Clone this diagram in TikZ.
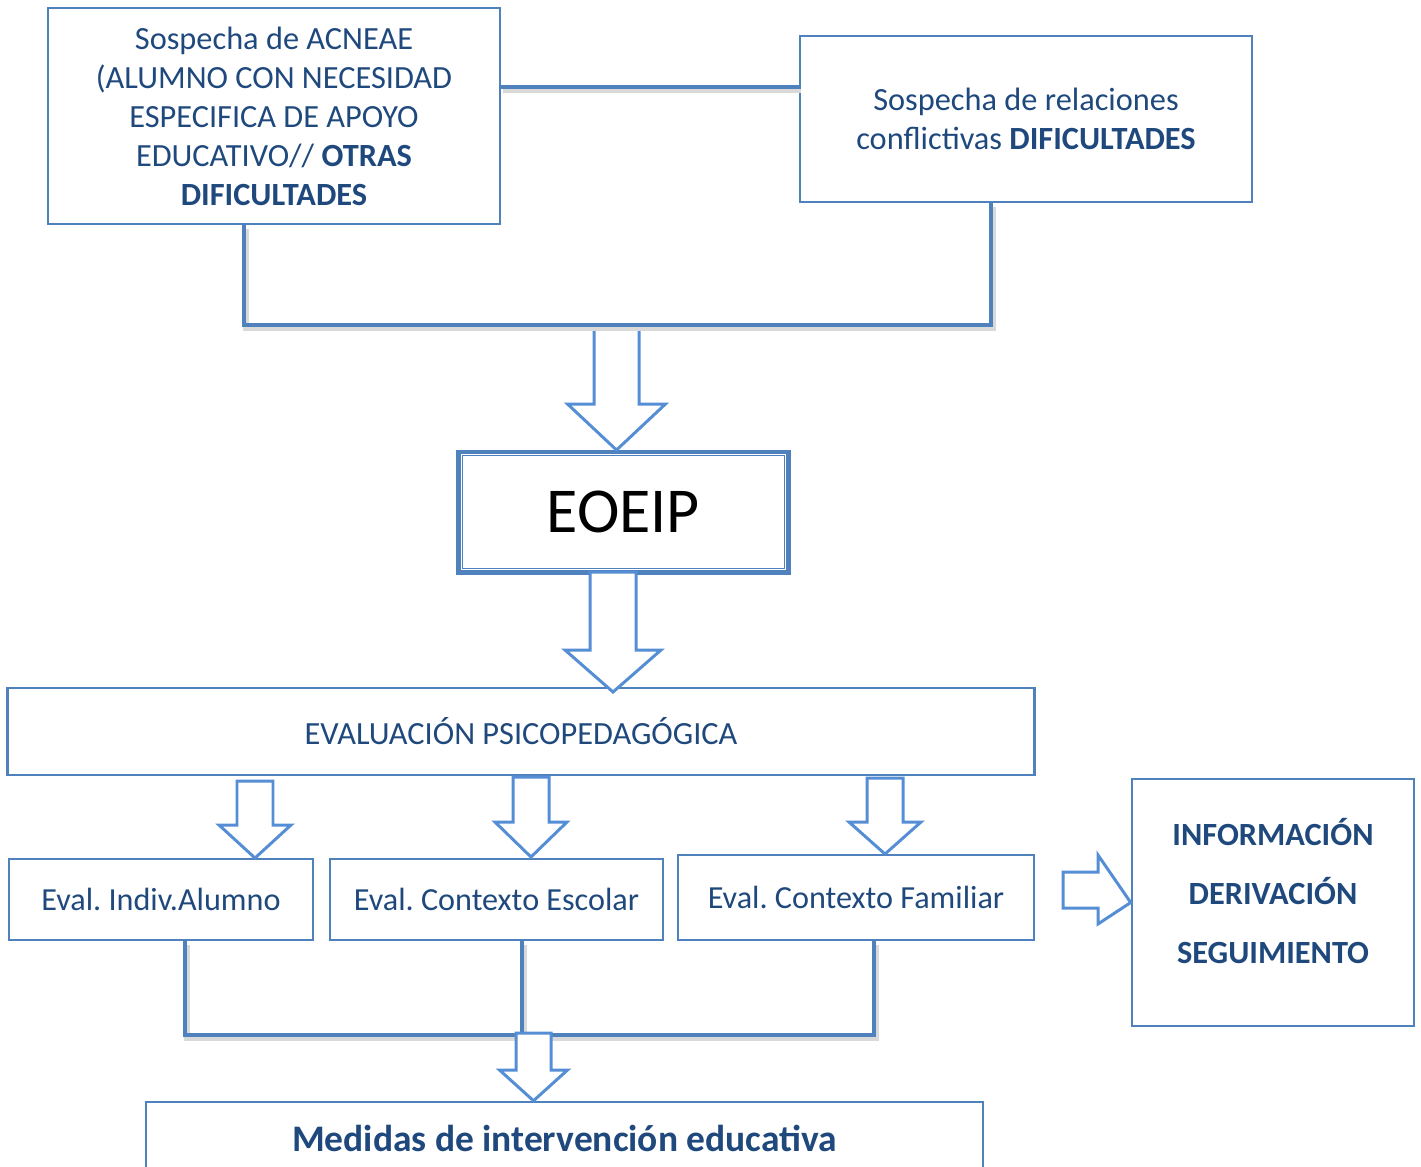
\documentclass[tikz,border=0pt]{standalone}
\usepackage{fontspec}
\setmainfont{Carlito}
\frenchspacing
\usetikzlibrary{positioning,calc}
\definecolor{azulcaja}{HTML}{4F81BD}
\definecolor{azulflecha}{HTML}{558ED5}
\definecolor{azultexto}{HTML}{1F497D}

\begin{document}
\begin{tikzpicture}[x=0.01cm,y=-0.01cm,
    caja/.style={draw=azulcaja,line width=0.7pt,rectangle,inner sep=0pt,align=center,
      text=azultexto,font=\fontsize{9.2}{11.1}\selectfont},
    linea/.style={draw=azulcaja,line width=1.3pt,line cap=rect,
      preaction={draw=black!15,line width=1.6pt,transform canvas={shift={(0.02cm,-0.035cm)}}}},
    flecha/.style={draw=azulflecha,line width=0.85pt,fill=white,line join=miter}]
        \useasboundingbox (0,0) rectangle (1421,1166);
        \clip (0,0) rectangle (1421,1166);
        % Define the nodes
        \node[caja,minimum width=4.52cm,minimum height=2.16cm] (acneae) at (274,116)
            {Sospecha de ACNEAE\\(ALUMNO CON NECESIDAD\\ESPECIFICA DE APOYO\\EDUCATIVO// \textbf{OTRAS}\\\textbf{DIFICULTADES}};
        \node[caja,minimum width=4.52cm,minimum height=1.66cm] (relaciones) at (1026,119)
            {Sospecha de relaciones\\conflictivas \textbf{DIFICULTADES}};
        \node[caja,line width=1.4pt,minimum width=3.29cm,minimum height=1.20cm,text=black,
            font=\fontsize{18.2}{22}\selectfont] (eoeip) at (623.5,512) {EOEIP};
        \draw[azulcaja,line width=0.4pt] ([shift={(6,6)}]eoeip.north west) rectangle ([shift={(-6,-6)}]eoeip.south east);
        \node[caja,minimum width=10.26cm,minimum height=0.87cm] (evaluacion) at (521,731.5) {EVALUACIÓN PSICOPEDAGÓGICA};
        \node[caja,minimum width=3.04cm,minimum height=0.81cm,font=\fontsize{9.15}{11}\selectfont] (indiv) at (161,899.5) {Eval. Indiv.Alumno};
        \node[caja,minimum width=3.33cm,minimum height=0.81cm,font=\fontsize{9.15}{11}\selectfont] (escolar) at (496.5,899.5) {Eval. Contexto Escolar};
        \node[caja,minimum width=3.56cm,minimum height=0.85cm,font=\fontsize{9.15}{11}\selectfont] (familiar) at (856,897.5) {Eval. Contexto Familiar};
        \node[caja,minimum width=2.82cm,minimum height=2.47cm,font=\bfseries\fontsize{9.2}{16.8}\selectfont] (info) at (1273,902.5)
            {\raisebox{0.095cm}[\height][\depth]{\begin{tabular}{@{}c@{}}INFORMACIÓN\\DERIVACIÓN\\SEGUIMIENTO\end{tabular}}};
        \node[caja,minimum width=8.37cm,minimum height=0.72cm,font=\bfseries\fontsize{10.66}{13}\selectfont] (medidas) at (564.5,1138)
            {Medidas de intervención educativa};
        % Connect the nodes
        \coordinate (alto)  at (0,87);
        \coordinate (codo1) at (244,325);
        \coordinate (codo2) at (991,325);
        \coordinate (codo3) at (185,1035);
        \coordinate (codo4) at (874,1035);
        % block arrows: centre / top / head / tip / half shaft / half head
        \foreach \x/\ya/\yb/\yc/\s/\h in {616.5/325/404/450/22.5/49, 613/572/650/692/23/48,
                255/781/825/858/18/36, 531/777/822/857/18/36, 885/778/822/854/18/36}
            \draw[flecha] ({\x-\s},\ya) -- ({\x-\s},\yb) -- ({\x-\h},\yb) -- (\x,\yc)
                -- ({\x+\h},\yb) -- ({\x+\s},\yb) -- ({\x+\s},\ya) -- cycle;
        \draw[linea] (acneae.east |- alto) -- (relaciones.west |- alto);
        \draw[linea] (acneae.south -| codo1) -- (codo1) -- (codo2) -- (relaciones.south -| codo2);
        \draw[linea] (indiv.south -| codo3) -- (codo3) -- (codo4) -- (familiar.south -| codo4);
        \draw[linea] (escolar.south -| 522,0) -- (522,1035);
        \draw[flecha] (516,1033) -- (516,1070) -- (499.5,1070) -- (medidas.north -| 533.5,0)
            -- (567.5,1070) -- (551,1070) -- (551,1033) -- cycle;
        \draw[flecha] (1063,872) -- (1098,872) -- (1098,855) -- (info.west) -- (1098,924)
            -- (1098,908) -- (1063,908) -- cycle;
\end{tikzpicture}
\end{document}
